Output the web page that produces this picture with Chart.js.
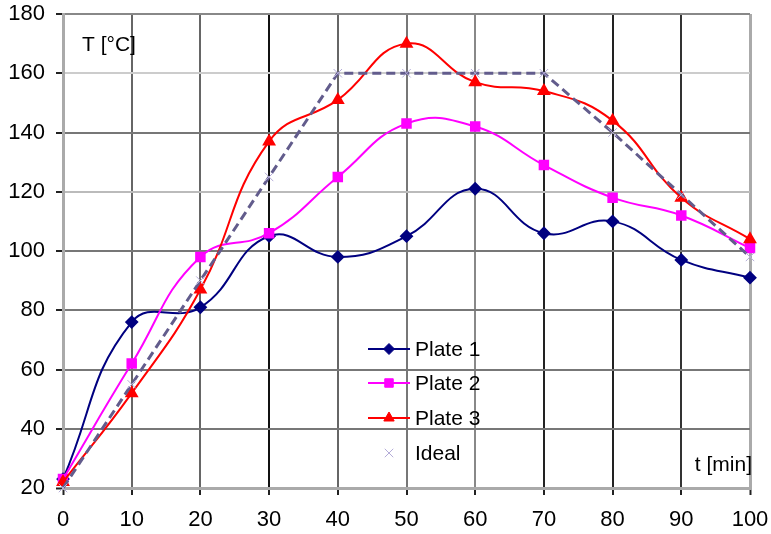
<!DOCTYPE html>
<html>
<head>
<meta charset="utf-8">
<script src="https://cdn.jsdelivr.net/npm/chart.js@4"></script>
<style>
  body { margin: 0; background: #fff; }
  canvas { display: block; }
</style>
</head>
<body>
<canvas id="chart" width="771" height="534"></canvas>
<script>
// data
const times = [0, 10, 20, 30, 40, 50, 60, 70, 80, 90, 100];
const plate1 = [23, 76, 81, 105, 98, 105, 121, 106, 110, 97, 91];
const plate2 = [23, 62, 98, 106, 125, 143, 142, 129, 118, 112, 101];
const plate3 = [22, 52, 87, 137, 151, 170, 157, 154, 144, 118, 104];
const ideal = [20, 55, 90, 125, 160, 160, 160, 160, 140, 119, 98];
const seriesNames = ['Plate 1', 'Plate 2', 'Plate 3', 'Ideal'];

const FONT = '"Liberation Sans", Arial, sans-serif';

function toPoints(ys) {
  return times.map((t, i) => ({ x: t, y: ys[i] }));
}

// vertical grid line colours (by x value)
const xGridColors = {
  0: '#aaa', 10: '#666', 20: '#666', 30: '#111', 40: '#666', 50: '#777',
  60: '#888', 70: '#222', 80: '#222', 90: '#333', 100: '#aaa'
};
const yGridColors = {
  20: '#aaa', 40: '#777', 60: '#777', 80: '#777', 100: '#777',
  120: '#bbb', 140: '#777', 160: '#ccc', 180: '#888'
};

// legend + axis titles drawn inside the plot area
const overlay = {
  id: 'overlay',
  afterDraw(chart) {
    const ctx = chart.ctx;
    ctx.save();
    ctx.fillStyle = '#000';
    ctx.font = '21px ' + FONT;
    ctx.textBaseline = 'alphabetic';
    ctx.textAlign = 'left';
    ctx.fillText('T [°C]', 82, 51);
    ctx.textAlign = 'right';
    ctx.fillText('t [min]', 752, 471);

    const rows = [349, 383, 418, 453];
    chart.data.datasets.forEach((ds, i) => {
      const y = rows[i];
      if (i < 3) {
        ctx.strokeStyle = ds.borderColor;
        ctx.lineWidth = 2;
        ctx.setLineDash([]);
        ctx.beginPath();
        ctx.moveTo(368, y);
        ctx.lineTo(410, y);
        ctx.stroke();
      }
      ctx.fillStyle = ds.pointBackgroundColor;
      ctx.strokeStyle = ds.pointBorderColor;
      ctx.lineWidth = ds.pointBorderWidth || 1;
      Chart.helpers.drawPoint(ctx, {
        pointStyle: ds.pointStyle,
        radius: ds.pointRadius,
        borderWidth: ds.pointBorderWidth || 1
      }, 389, y);
      ctx.fillStyle = '#000';
      ctx.textAlign = 'left';
      ctx.textBaseline = 'middle';
      ctx.font = '21px ' + FONT;
      ctx.fillText(ds.label, 415, y + 1);
    });
    ctx.restore();
  }
};

new Chart(document.getElementById('chart'), {
  type: 'line',
  data: {
    datasets: [
      {
        label: seriesNames[0],
        data: toPoints(plate1),
        borderColor: '#000080',
        backgroundColor: '#000080',
        pointBackgroundColor: '#000080',
        pointBorderColor: '#000080',
        borderWidth: 2,
        pointStyle: 'rectRot',
        pointRadius: 5.5,
        tension: 0.45,
        order: 3
      },
      {
        label: seriesNames[1],
        data: toPoints(plate2),
        borderColor: '#ff00ff',
        backgroundColor: '#ff00ff',
        pointBackgroundColor: '#ff00ff',
        pointBorderColor: '#ff00ff',
        borderWidth: 2,
        pointStyle: 'rect',
        pointRadius: 6,
        tension: 0.45,
        order: 2
      },
      {
        label: seriesNames[2],
        data: toPoints(plate3),
        borderColor: '#ff0000',
        backgroundColor: '#ff0000',
        pointBackgroundColor: '#ff0000',
        pointBorderColor: '#ff0000',
        borderWidth: 2,
        pointStyle: 'triangle',
        pointRadius: 6,
        tension: 0.45,
        order: 1
      },
      {
        label: seriesNames[3],
        data: toPoints(ideal),
        borderColor: '#625c8c',
        backgroundColor: '#b4acd8',
        pointBackgroundColor: '#b4acd8',
        pointBorderColor: '#b4acd8',
        borderWidth: 3,
        borderDash: [9, 5],
        pointStyle: 'crossRot',
        pointRadius: 6,
        pointBorderWidth: 1,
        tension: 0,
        order: 0
      }
    ]
  },
  options: {
    responsive: false,
    animation: false,
    clip: false,
    layout: { padding: { top: 14, right: 21, left: 0, bottom: 0 } },
    plugins: {
      legend: { display: false },
      tooltip: { enabled: false }
    },
    scales: {
      x: {
        type: 'linear',
        min: 0,
        max: 100,
        afterFit: s => { s.height = 46; s.paddingLeft = 0; s.paddingRight = 0; },
        ticks: {
          stepSize: 10,
          padding: 12,
          color: '#000',
          font: { family: FONT, size: 22 }
        },
        grid: {
          color: c => xGridColors[c.tick.value] || '#666',
          lineWidth: c => (c.tick.value === 0 || c.tick.value === 100) ? 3 : 2,
          tickColor: '#222',
          tickLength: 7,
          tickWidth: 2
        },
        border: { color: '#aaa', width: 3 }
      },
      y: {
        min: 20,
        max: 180,
        afterFit: s => { s.width = 63; s.paddingTop = 0; s.paddingBottom = 0; },
        ticks: {
          stepSize: 20,
          padding: 11,
          color: '#000',
          font: { family: FONT, size: 22 }
        },
        grid: {
          color: c => yGridColors[c.tick.value] || '#777',
          lineWidth: c => c.tick.value === 20 ? 3 : 2,
          tickColor: '#222',
          tickLength: 7,
          tickWidth: 2
        },
        border: { color: '#aaa', width: 3 }
      }
    }
  },
  plugins: [overlay]
});
</script>
</body>
</html>
